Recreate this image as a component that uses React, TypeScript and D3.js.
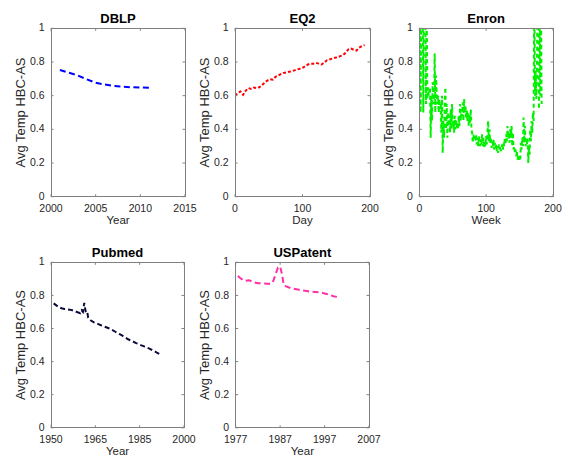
import React from 'react';
import * as d3 from 'd3';

// ---------- data ----------
const yTickValues = [0, 0.2, 0.4, 0.6, 0.8, 1];
const yTickLabels = ['0', '0.2', '0.4', '0.6', '0.8', '1'];

const dblpYears = [2001, 2002, 2003, 2004, 2005, 2006, 2007, 2008, 2009, 2010, 2011];
const dblpValues = [0.752, 0.736, 0.72, 0.697, 0.677, 0.666, 0.658, 0.653, 0.65, 0.648, 0.647];
const dblpTickValues = [2000, 2005, 2010, 2015];
const dblpTickLabels = ['2000', '2005', '2010', '2015'];

const eq2Days = [0, 4, 8, 12, 16, 20, 24, 28, 32, 36, 40, 44, 48, 52, 56, 60, 64, 68, 72, 76, 80, 84, 88, 92, 96, 100, 104, 108, 112, 116, 120, 124, 128, 132, 136, 140, 144, 148, 152, 156, 160, 164, 168, 172, 176, 180, 184, 188, 192];
const eq2Values = [0.6, 0.615, 0.625, 0.605, 0.63, 0.645, 0.64, 0.648, 0.645, 0.65, 0.662, 0.678, 0.69, 0.698, 0.695, 0.712, 0.72, 0.728, 0.735, 0.738, 0.742, 0.745, 0.75, 0.755, 0.76, 0.765, 0.775, 0.785, 0.79, 0.79, 0.795, 0.79, 0.785, 0.795, 0.81, 0.815, 0.82, 0.825, 0.828, 0.835, 0.84, 0.855, 0.875, 0.88, 0.872, 0.868, 0.885, 0.895, 0.9];
const eq2TickValues = [0, 100, 200];
const eq2TickLabels = ['0', '100', '200'];

// weekly values; values above 1 are clipped by the axes, as in the original figure
const enronValues = [
  0.6, 1.4, 0.5, 1.3, 1.5, 1.2, 0.5, 1.4, 1.3, 1.1, 0.55, 1.2, 0.58, 0.65, 0.6, 0.62, 0.65, 0.35, 0.6, 0.45,
  0.68, 0.6, 0.55, 0.85, 0.5, 0.72, 0.62, 0.55, 0.6, 0.5, 0.58, 0.52, 0.55, 0.38, 0.6, 0.26, 0.45, 0.35, 0.55, 0.65,
  0.4, 0.55, 0.35, 0.5, 0.42, 0.48, 0.38, 0.52, 0.4, 0.55, 0.42, 0.45, 0.38, 0.48, 0.4, 0.46, 0.41, 0.44, 0.4, 0.48,
  0.42, 0.55, 0.45, 0.52, 0.48, 0.56, 0.45, 0.58, 0.5, 0.54, 0.47, 0.52, 0.45, 0.5, 0.42, 0.48, 0.44, 0.52, 0.4, 0.38,
  0.32, 0.37, 0.34, 0.36, 0.33, 0.37, 0.31, 0.35, 0.3, 0.36, 0.32, 0.3, 0.34, 0.31, 0.37, 0.3, 0.35, 0.29, 0.33, 0.3,
  0.36, 0.31, 0.38, 0.45, 0.33, 0.4, 0.32, 0.35, 0.29, 0.33, 0.3, 0.34, 0.28, 0.32, 0.29, 0.31, 0.27, 0.3, 0.26, 0.31,
  0.28, 0.3, 0.27, 0.29, 0.31, 0.28, 0.32, 0.3, 0.35, 0.31, 0.37, 0.33, 0.42, 0.35, 0.38, 0.32, 0.4, 0.35, 0.42, 0.3,
  0.38, 0.28, 0.3, 0.26, 0.28, 0.24, 0.27, 0.22, 0.25, 0.21, 0.24, 0.22, 0.32, 0.28, 0.35, 0.3, 0.47, 0.32, 0.42, 0.3,
  0.34, 0.31, 0.35, 0.2, 0.3, 0.25, 0.4, 0.33, 0.45, 0.38, 0.5, 0.45, 1.3, 0.6, 0.75, 0.58, 0.72, 1.4, 1.5, 0.52,
  1.3, 0.6, 1.2, 0.55,
];
const enronWeeks = enronValues.map((_, i) => i);
const enronTickValues = [0, 100, 200];
const enronTickLabels = ['0', '100', '200'];

const pubmedYears = [1951, 1952, 1953, 1954, 1955, 1956, 1957, 1958, 1959, 1960, 1961, 1961.5, 1962, 1962.5, 1963, 1963.5, 1964, 1965, 1966, 1967, 1968, 1969, 1970, 1971, 1972, 1973, 1974, 1975, 1976, 1977, 1978, 1979, 1980, 1981, 1982, 1983, 1984, 1985, 1986, 1987, 1988, 1989, 1990, 1991];
const pubmedValues = [0.752, 0.74, 0.728, 0.722, 0.718, 0.716, 0.714, 0.71, 0.705, 0.698, 0.692, 0.71, 0.7, 0.755, 0.705, 0.71, 0.665, 0.648, 0.638, 0.632, 0.625, 0.618, 0.612, 0.606, 0.6, 0.592, 0.582, 0.572, 0.564, 0.555, 0.545, 0.535, 0.527, 0.52, 0.512, 0.505, 0.498, 0.492, 0.485, 0.478, 0.47, 0.462, 0.452, 0.444];
const pubmedTickValues = [1950, 1966.667, 1983.333, 2000];
const pubmedTickLabels = ['1950', '1965', '1985', '2000'];

const usPatentYears = [1977.5, 1978, 1979, 1980, 1981, 1982, 1983, 1984, 1985, 1985.5, 1986, 1986.5, 1987, 1987.4, 1987.8, 1988, 1989, 1990, 1991, 1992, 1993, 1994, 1995, 1996, 1997, 1998, 1999, 2000];
const usPatentValues = [0.918, 0.905, 0.888, 0.892, 0.88, 0.874, 0.872, 0.871, 0.87, 0.89, 0.93, 0.968, 0.975, 0.93, 0.865, 0.858, 0.848, 0.84, 0.835, 0.83, 0.826, 0.822, 0.82, 0.818, 0.812, 0.805, 0.795, 0.79];
const usPatentTickValues = [1977, 1987, 1997, 2007];
const usPatentTickLabels = ['1977', '1987', '1997', '2007'];

// ---------- layout ----------
const FONT = '"Liberation Sans", Arial, Helvetica, sans-serif';
const TEXT = '#262626';
const AXIS = '#808080';

type PanelDef = {
  id: string;
  title: string;
  xLabel: string;
  xs: number[];
  ys: number[];
  xDomain: [number, number];
  xTicks: number[];
  xTickLabels: string[];
  left: number;
  top: number;
  width: number;
  height: number;
  color: string;
  dash: string;
};

const panels: PanelDef[] = [
  { id: 'p1', title: 'DBLP', xLabel: 'Year', xs: dblpYears, ys: dblpValues, xDomain: [2000, 2015], xTicks: dblpTickValues, xTickLabels: dblpTickLabels, left: 51, top: 28.3, width: 134, height: 168.4, color: '#0000ff', dash: '6,3.5' },
  { id: 'p2', title: 'EQ2', xLabel: 'Day', xs: eq2Days, ys: eq2Values, xDomain: [0, 200], xTicks: eq2TickValues, xTickLabels: eq2TickLabels, left: 235, top: 28.3, width: 135, height: 168.4, color: '#ff0000', dash: '3,2' },
  { id: 'p3', title: 'Enron', xLabel: 'Week', xs: enronWeeks, ys: enronValues, xDomain: [0, 200], xTicks: enronTickValues, xTickLabels: enronTickLabels, left: 419.3, top: 28.3, width: 133.7, height: 168.4, color: '#00f000', dash: '4,3' },
  { id: 'p4', title: 'Pubmed', xLabel: 'Year', xs: pubmedYears, ys: pubmedValues, xDomain: [1950, 2000], xTicks: pubmedTickValues, xTickLabels: pubmedTickLabels, left: 51, top: 262.3, width: 133, height: 165.5, color: '#0b0b3b', dash: '5,3' },
  { id: 'p5', title: 'USPatent', xLabel: 'Year', xs: usPatentYears, ys: usPatentValues, xDomain: [1977, 2007], xTicks: usPatentTickValues, xTickLabels: usPatentTickLabels, left: 235.7, top: 262.3, width: 133.3, height: 165.5, color: '#ff2fa8', dash: '6,3.5' },
];

function Panel({ p }: { p: PanelDef }) {
  const x = d3.scaleLinear().domain(p.xDomain).range([p.left, p.left + p.width]);
  const y = d3.scaleLinear().domain([0, 1]).range([p.top + p.height, p.top]);
  const line = d3.line<number>().x((_, i) => x(p.xs[i])).y((d) => y(d));
  const path = line(p.ys) || '';
  const bottom = p.top + p.height;
  const right = p.left + p.width;
  const tl = 2.5;
  return (
    <g>
      <defs>
        <clipPath id={'clip-' + p.id}>
          <rect x={p.left} y={p.top} width={p.width} height={p.height} />
        </clipPath>
      </defs>
      <rect x={p.left} y={p.top} width={p.width} height={p.height} fill="#fff" />
      <path d={path} fill="none" stroke={p.color} strokeWidth={2} strokeDasharray={p.dash} clipPath={`url(#clip-${p.id})`} />
      <rect x={p.left} y={p.top} width={p.width} height={p.height} fill="none" stroke={AXIS} strokeWidth={1} shapeRendering="crispEdges" />
      {p.xTicks.map((t, i) => (
        <g key={'xt' + i}>
          <line x1={x(t)} x2={x(t)} y1={bottom} y2={bottom - tl} stroke={AXIS} />
          <line x1={x(t)} x2={x(t)} y1={p.top} y2={p.top + tl} stroke={AXIS} />
          <text x={x(t)} y={bottom + 15} textAnchor="middle" fontSize={10.5} fill={TEXT} fontFamily={FONT}>{p.xTickLabels[i]}</text>
        </g>
      ))}
      {yTickValues.map((t, i) => (
        <g key={'yt' + i}>
          <line x1={p.left} x2={p.left + tl} y1={y(t)} y2={y(t)} stroke={AXIS} />
          <line x1={right} x2={right - tl} y1={y(t)} y2={y(t)} stroke={AXIS} />
          <text x={p.left - 6.5} y={y(t)} dy="0.3em" textAnchor="end" fontSize={10.5} fill={TEXT} fontFamily={FONT}>{yTickLabels[i]}</text>
        </g>
      ))}
      <text x={p.left + p.width / 2} y={bottom + 27.6} textAnchor="middle" fontSize={11.5} fill={TEXT} fontFamily={FONT}>{p.xLabel}</text>
      <text transform={`translate(${p.left - 26.5},${p.top + p.height / 2}) rotate(-90)`} textAnchor="middle" fontSize={13} fill={TEXT} fontFamily={FONT}>Avg Temp HBC-AS</text>
      <text x={p.left + p.width / 2} y={p.top - 5} textAnchor="middle" fontSize={13} fontWeight="bold" fill="#000" fontFamily={FONT}>{p.title}</text>
    </g>
  );
}

export default function App() {
  return (
    <svg width={568} height={458} style={{ position: 'absolute', left: 0, top: 0, background: '#fff' }}>
      <rect x={0} y={0} width={568} height={458} fill="#fff" />
      {panels.map((p) => (
        <Panel key={p.id} p={p} />
      ))}
    </svg>
  );
}
